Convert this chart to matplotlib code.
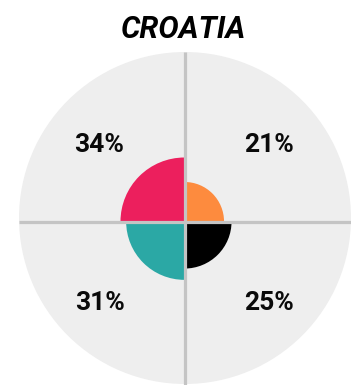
import matplotlib
matplotlib.use("Agg")
import matplotlib.pyplot as plt
from matplotlib.patches import Wedge, Circle

title = "CROATIA"
categories = ["top-left", "top-right", "bottom-left", "bottom-right"]
values = [34, 21, 31, 25]
colors = ["#EC1F5D", "#FD8B3E", "#2BA8A5", "#000000"]

W, H = 351, 385
fig = plt.figure(figsize=(W / 100, H / 100), dpi=100)
ax = fig.add_axes([0, 0, 1, 1])
ax.set_xlim(0, W)
ax.set_ylim(H, 0)
ax.axis("off")

cx, cy = 184.5, 221.5
R = 166
ax.add_patch(Circle((185, 218), R, facecolor="#EEEEEE", edgecolor="none", zorder=1))

scale = 64 / max(values)
# angles in display (y inverted): top-left, top-right, bottom-left, bottom-right
angles = [(180, 270), (270, 360), (90, 180), (0, 90)]
for v, c, (a1, a2) in zip(values, colors, angles):
    ax.add_patch(Wedge((cx, cy), v * scale, a1, a2, facecolor=c, edgecolor="none", zorder=2))

ax.plot([cx, cx], [52, H], color="#C4C4C4", lw=2.3, zorder=3, solid_capstyle="butt")
ax.plot([19, W], [cy, cy], color="#C4C4C4", lw=2.3, zorder=3, solid_capstyle="butt")

label_pos = [(99.5, 142), (269, 142), (99.5, 301), (269, 301)]
for v, (x, y) in zip(values, label_pos):
    ax.text(x, y, f"{v}%", ha="center", va="center_baseline", fontsize=19,
            fontweight="bold", family="Roboto", color="#0A0A0A", zorder=4)

ax.text(183.5, 26, title, ha="center", va="center_baseline", fontsize=22, fontweight="bold",
        style="italic", family="Roboto", color="#000000")

fig.savefig("out.png", dpi=100)
